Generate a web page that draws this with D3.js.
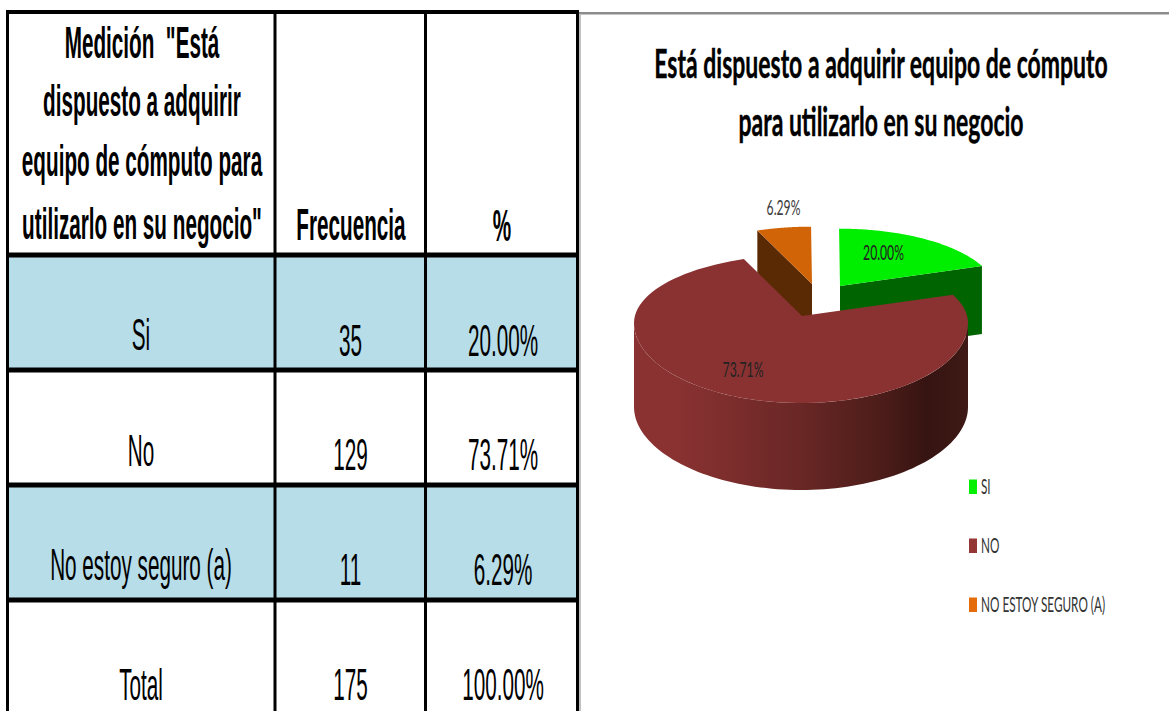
<!DOCTYPE html>
<html lang="es">
<head>
<meta charset="utf-8">
<style>
html,body{margin:0;padding:0;background:#fff;overflow:hidden}
svg{display:block}
</style>
<script src="https://cdn.jsdelivr.net/npm/d3@7/dist/d3.min.js"></script>
</head>
<body>
<svg id="c" width="1169" height="711"></svg>
<script>
// ---- data ----
const headerLines = ['Medición  "Está', 'dispuesto a adquirir', 'equipo de cómputo para', 'utilizarlo en su negocio"'];
const headerFreq = 'Frecuencia';
const headerPct = '%';
const rowLabels = ['Si', 'No', 'No estoy seguro (a)', 'Total'];
const frequencies = [35, 129, 11, 175];
const percentLabels = ['20.00%', '73.71%', '6.29%', '100.00%'];
const titleLines = ['Está dispuesto a adquirir equipo de cómputo', 'para utilizarlo en su negocio'];
const pieCategories = ['SI', 'NO', 'NO ESTOY SEGURO (A)'];
const pieValues = [35, 129, 11];
const pieLabels = ['20.00%', '73.71%', '6.29%'];

// ---- layout and style ----
const svg = d3.select('#c');
const colLines = [7.5, 275, 425.5, 577.5];
const rowY = d3.scaleLinear().domain([0, 1]).range([255, 370]);
const rowTextOffset = [95, 96, 95, 100];
const numTextOffset = [101, 100, 100, 100];
const col = [141, 350.5, 503];
const tableFont = 'Liberation Sans';
const tableSx = 0.46;

function stretched(g, txt, x, y, opts) {
  const t = g.append('text')
    .attr('transform', `translate(${x},${y}) scale(${opts.sx},1)`)
    .attr('text-anchor', opts.anchor || 'middle')
    .attr('font-family', opts.font)
    .attr('font-size', opts.size)
    .attr('font-weight', opts.weight || 400)
    .attr('fill', opts.fill || '#000')
    .style('white-space', 'pre')
    .text(txt);
  return t;
}

// ---- table ----
const table = svg.append('g');
[0, 2].forEach(i => {
  table.append('rect')
    .attr('x', colLines[0]).attr('width', colLines[3] - colLines[0])
    .attr('y', rowY(i)).attr('height', rowY(i + 1) - rowY(i))
    .attr('fill', '#b7dde8');
});
// chart frame next to the table
svg.append('rect').attr('x', 579).attr('y', 12).attr('width', 590).attr('height', 2.5).attr('fill', '#8c8c8c');
svg.append('rect').attr('x', 579).attr('y', 14).attr('width', 2).attr('height', 697).attr('fill', '#c0c0c0');

colLines.forEach(x => {
  table.append('line').attr('x1', x).attr('x2', x).attr('y1', 10).attr('y2', 711)
    .attr('stroke', '#000').attr('stroke-width', 3);
});
table.append('line').attr('x1', 6).attr('x2', 579).attr('y1', 12).attr('y2', 12).attr('stroke', '#000').attr('stroke-width', 4);
d3.range(0, 4).forEach(i => {
  table.append('line').attr('x1', 6).attr('x2', 579).attr('y1', rowY(i)).attr('y2', rowY(i))
    .attr('stroke', '#000').attr('stroke-width', 5);
});

const headerBase = [58, 116, 176, 239];
const boldOpts = {sx: 0.46, font: tableFont, size: 45, weight: 700};
headerLines.forEach((l, i) => stretched(table, l, 142, headerBase[i], boldOpts));
stretched(table, headerFreq, 351, 240, boldOpts);
stretched(table, headerPct, 502, 241, boldOpts);

const plainOpts = {sx: tableSx, font: tableFont, size: 45};
rowLabels.forEach((l, i) => stretched(table, l, col[0], rowY(i) + rowTextOffset[i], plainOpts));
frequencies.forEach((v, i) => stretched(table, String(v), col[1], rowY(i) + numTextOffset[i], plainOpts));
percentLabels.forEach((l, i) => stretched(table, l, col[2], rowY(i) + numTextOffset[i], plainOpts));

// ---- chart title ----
const chartFont = 'Lato';
const titleBase = [78, 136];
titleLines.forEach((l, i) => stretched(svg, l, 881, titleBase[i], {sx: 0.575, font: chartFont, size: 40, weight: 700})
  .attr('stroke', '#000').attr('stroke-width', 0.4));

// ---- 3D pie ----
const cx = 802, cy = 316;
const rimRx = 167, rimBack = 68, rimFront = 80, rimDx = -1, rimDy = 7;
const warp = 0.1187;
// point on the rim for an ellipse angle
const rim = phi => {
  const c = Math.cos(phi);
  return [rimDx + rimRx * Math.sin(phi), rimDy - (c > 0 ? rimBack : rimFront) * c];
};
// pie angle to ellipse angle
const project = a => rim(a - warp * Math.sin(a));
const arcs = d3.pie().sort(null).startAngle(0).endAngle(2 * Math.PI)(pieValues);
const topColors = ['#00ee00', '#8a3232', '#d26408'];
const faceColors = ['#006400', '#6e2726', '#5a2a04'];
const offsets = [[38, -30], [0, 0], [10, -32]];
const sliceScale = [0.94, 1, 0.94];
const faceDepth = [68, 87, 50];
const line = d3.line();
const arcPoints = (a0, a1, s) => d3.range(0, 91).map(i => {
  const p = project(a0 + (a1 - a0) * i / 90);
  return [p[0] * s, p[1] * s];
});

const defs = svg.append('defs');
const grad = defs.append('linearGradient').attr('id', 'wall').attr('gradientUnits', 'userSpaceOnUse')
  .attr('x1', -168).attr('x2', 168).attr('y1', 0).attr('y2', 0);
[[0, '#8a3232'], [0.12, '#8a3232'], [0.5, '#692725'], [0.75, '#4a1c19'], [0.87, '#361411'], [1, '#3f1a16']]
  .forEach(([o, c]) => grad.append('stop').attr('offset', o).attr('stop-color', c));

const pieG = svg.append('g').attr('transform', `translate(${cx},${cy})`);
// exploded slices first, the large slice overlaps them
[0, 2, 1].forEach(i => {
  const d = arcs[i];
  const g = pieG.append('g').attr('transform', `translate(${offsets[i][0]},${offsets[i][1]})`);
  const pts = arcPoints(d.startAngle, d.endAngle, sliceScale[i]);
  const h = faceDepth[i];
  if (i === 0) {
    const tip = pts[pts.length - 1];
    g.append('path').attr('d', line([[0, 0], tip, [tip[0], tip[1] + h], [0, h]]) + 'Z').attr('fill', faceColors[0]);
  }
  if (i === 2) {
    const first = pts[0];
    g.append('path').attr('d', line([[0, 0], first, [first[0], first[1] + h], [0, h]]) + 'Z').attr('fill', faceColors[2]);
  }
  if (i === 1) {
    const wallTop = d3.range(0, 91).map(k => rim(Math.PI / 2 + Math.PI * k / 90));
    // the wall is a little shorter at its two ends than at the front
    const wallBot = wallTop.map(p => [p[0], p[1] + h - 3 * Math.pow(Math.abs(p[0]) / rimRx, 2)]).reverse();
    g.append('path').attr('d', line(wallTop.concat(wallBot)) + 'Z').attr('fill', 'url(#wall)');
  }
  g.append('path').attr('d', line([[0, 0]].concat(pts)) + 'Z').attr('fill', topColors[i]);
});

// data labels
const labelX = [883.5, 743, 783.5], labelY = [260, 377, 215], labelFill = ['#222', '#222', '#404040'];
pieLabels.forEach((l, i) => stretched(svg, l, labelX[i], labelY[i], {sx: 0.58, font: chartFont, size: 21, fill: labelFill[i]}));

// legend
const legendColors = ['#00f000', '#953735', '#e46c0a'];
const legendY = d3.scaleLinear().domain([0, 1]).range([494, 553]);
pieCategories.forEach((l, i) => {
  const b = i === 2 ? 612 : legendY(i);
  svg.append('rect').attr('x', 969).attr('y', b - 14.5).attr('width', 8).attr('height', 14.5).attr('fill', legendColors[i]);
  stretched(svg, l, 981, b, {sx: 0.56, font: chartFont, size: 21, fill: '#333', anchor: 'start'});
});
</script>
</body>
</html>
